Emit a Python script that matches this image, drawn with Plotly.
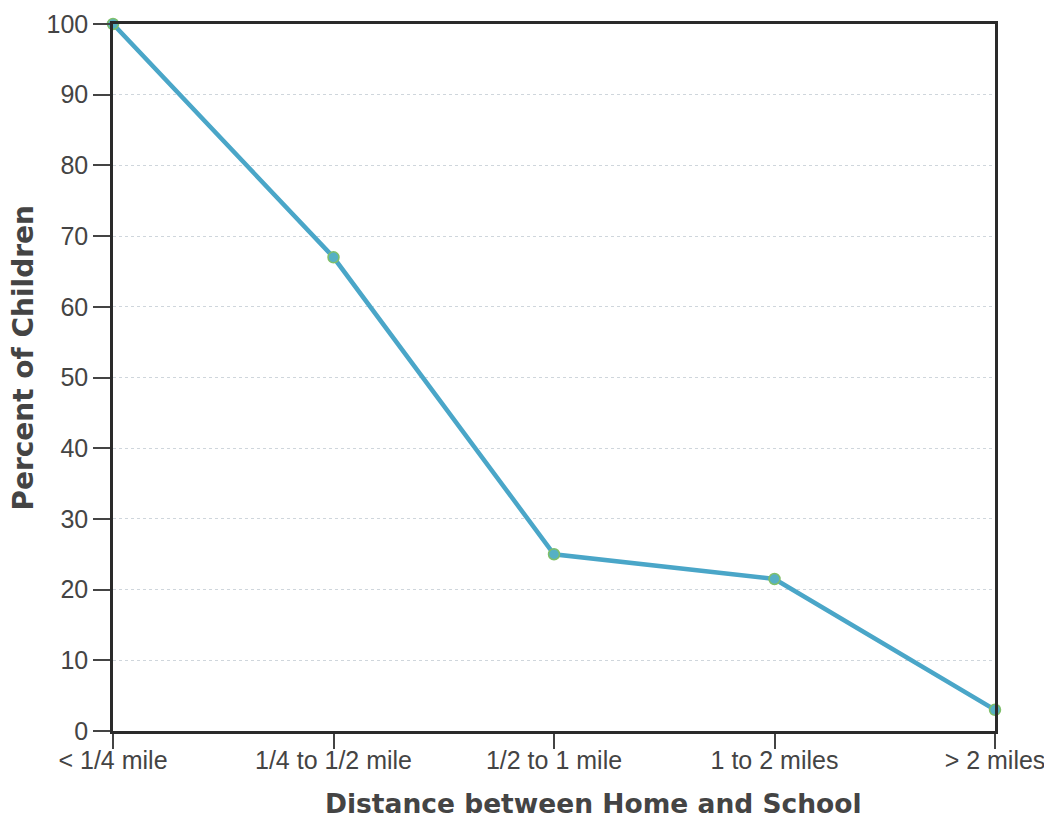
import plotly.graph_objects as go

categories = ["< 1/4 mile", "1/4 to 1/2 mile", "1/2 to 1 mile", "1 to 2 miles", "> 2 miles"]
percent_children = [100, 67, 25, 21.5, 3]
y_ticks = [0, 10, 20, 30, 40, 50, 60, 70, 80, 90, 100]

x_idx = list(range(len(categories)))

fig = go.Figure()
fig.add_trace(go.Scatter(
    x=x_idx, y=percent_children, mode="lines+markers",
    line=dict(color="#4aa6c8", width=4.5),
    marker=dict(size=11, color="#56b0c4", line=dict(color="#7fbf6a", width=1.5)),
    cliponaxis=False, showlegend=False,
))

fig.update_layout(
    width=1044, height=813,
    paper_bgcolor="white", plot_bgcolor="white",
    margin=dict(l=105, r=57, t=16, b=90, autoexpand=False),
    font=dict(family="Liberation Sans", color="#444444"),
    annotations=[
        dict(text="<b>Distance between Home and School</b>", xref="paper", yref="paper",
             x=0.545, y=-0.102, xanchor="center", yanchor="middle", showarrow=False,
             font=dict(family="DejaVu Sans", size=26.5, color="#444444")),
        dict(text="<b>Percent of Children</b>", xref="paper", yref="paper",
             x=-0.101, y=0.528, xanchor="center", yanchor="middle", showarrow=False,
             textangle=-90,
             font=dict(family="DejaVu Sans", size=28, color="#444444")),
    ],
)
fig.update_xaxes(
    range=[0, 4], tickmode="array", tickvals=x_idx, ticktext=categories,
    ticks="outside", ticklen=15, tickwidth=2, tickcolor="#444444",
    tickfont=dict(size=25, color="#444444"), automargin=False,
    ticklabelstandoff=-10, ticklabeloverflow="allow",
    showline=True, linecolor="#2a2a2a", linewidth=2.5, mirror=True,
    showgrid=False, zeroline=False,
)
fig.update_yaxes(
    range=[0, 100], tickmode="array", tickvals=y_ticks,
    ticks="outside", ticklen=17, tickwidth=2, tickcolor="#444444",
    tickfont=dict(size=25, color="#444444"), automargin=False,
    showline=True, linecolor="#2a2a2a", linewidth=2.5, mirror=True,
    showgrid=True, gridcolor="#cfd6dc", griddash="dot", gridwidth=1,
    zeroline=False,
)

fig.write_html("out.html")
